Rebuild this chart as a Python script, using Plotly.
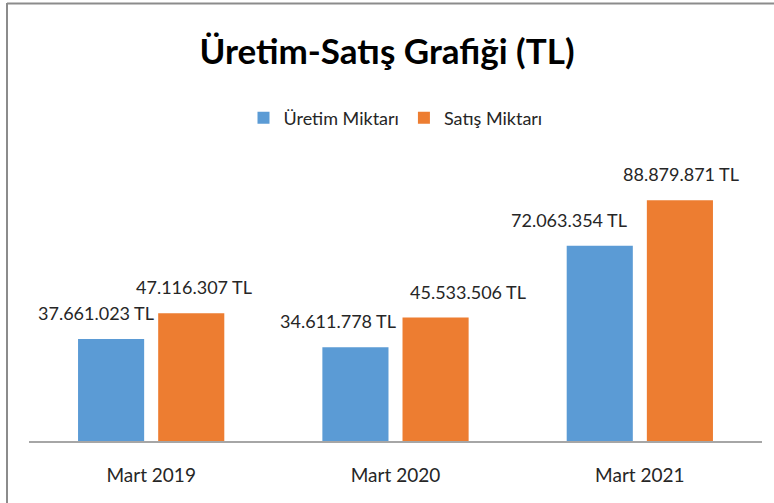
import plotly.graph_objects as go

categories = ["Mart 2019", "Mart 2020", "Mart 2021"]
uretim = [37661023, 34611778, 72063354]
satis = [47116307, 45533506, 88879871]
series_names = ["Üretim Miktarı", "Satış Miktarı"]
colors = ["#5B9BD5", "#ED7D31"]

# label styling: horizontal nudges (px) of each data label, as placed in the original
label_nudge = [[-15, -18, -31], [2, 31, 0]]

def fmt(v):
    return f"{v:,}".replace(",", ".") + " TL"

FONT = "Lato, sans-serif"
TXT = "#262626"

fig = go.Figure()
for name, vals, col in zip(series_names, [uretim, satis], colors):
    fig.add_trace(go.Bar(
        x=categories, y=vals, name=name,
        marker=dict(color=col, line=dict(width=0)),
        hoverinfo="x+y+name",
    ))

W, H = 774, 503
ml, mr, mt, mb = 29, 12, 170, 62
pw, ph = W - ml - mr, H - mt - mb

def px(x):
    return (x - ml) / pw

def py(y):
    return (H - mb - y) / ph

group_offset = [-40, 41]
annotations = []
for si, vals in enumerate([uretim, satis]):
    for ci, (cat, v) in enumerate(zip(categories, vals)):
        annotations.append(dict(
            x=cat, y=v, xref="x", yref="y", text=fmt(v), showarrow=False,
            xanchor="center", yanchor="middle",
            xshift=group_offset[si] + label_nudge[si][ci], yshift=26,
            font=dict(size=18, color=TXT, family=FONT),
        ))

fig.update_layout(
    width=W, height=H,
    margin=dict(l=ml, r=mr, t=mt, b=mb),
    paper_bgcolor="white", plot_bgcolor="white",
    barmode="group", bargap=0.344, bargroupgap=0.175,
    title=dict(text="<b>Üretim-Satış Grafiği (TL)</b>", x=0.5, xanchor="center",
               y=1 - 52 / H, yanchor="middle",
               font=dict(size=35, color="#000000", family=FONT)),
    legend=dict(orientation="h", x=0.5, xanchor="center", y=py(118), yanchor="middle",
                font=dict(size=18, color=TXT, family=FONT),
                traceorder="normal"),
    font=dict(family=FONT),
    xaxis=dict(showline=True, linecolor="#A6A6A6", linewidth=2, ticks="",
               ticklabelstandoff=16,
               tickfont=dict(size=19, color=TXT, family=FONT), showgrid=False,
               fixedrange=True),
    yaxis=dict(range=[0, 100e6], visible=False, showgrid=False),
    showlegend=True,
    annotations=annotations,
    shapes=[
        dict(type="line", xref="paper", yref="paper", x0=px(7), x1=px(7), y0=py(3), y1=py(503),
             line=dict(color="#8C8C8C", width=2)),
        dict(type="line", xref="paper", yref="paper", x0=px(7), x1=px(774), y0=py(3.5), y1=py(3.5),
             line=dict(color="#8C8C8C", width=2)),
    ],
)

fig.write_html("out.html")
